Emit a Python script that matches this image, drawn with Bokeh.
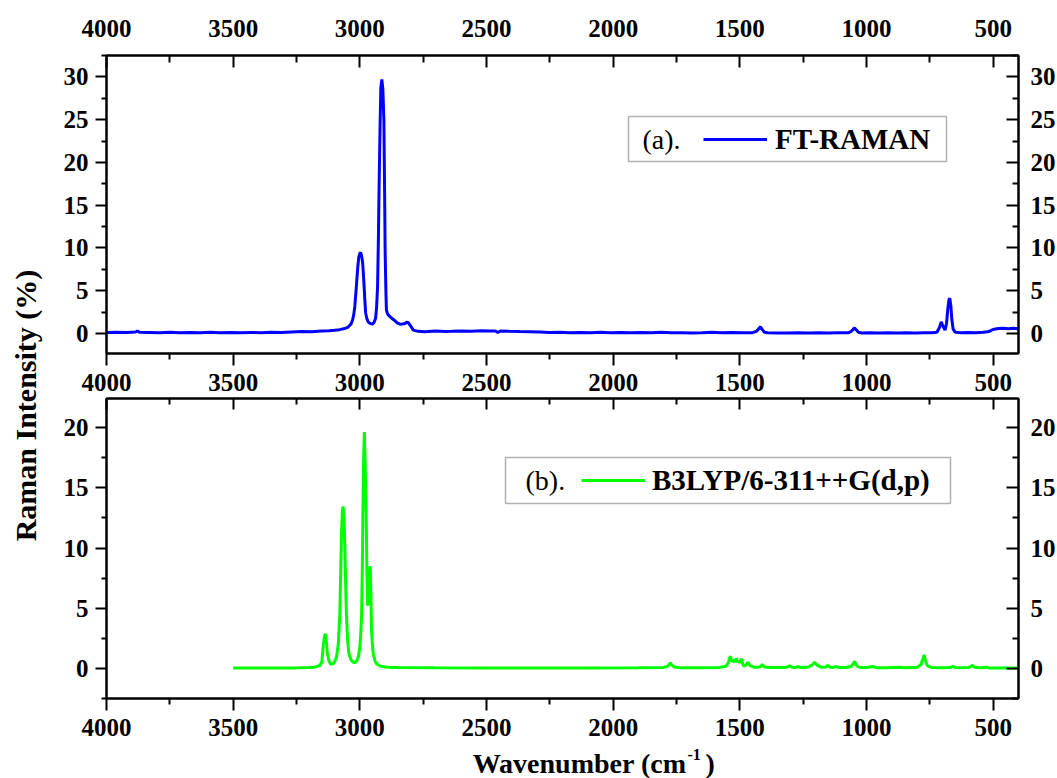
import math
from bokeh.plotting import figure
from bokeh.models import (Range1d, LinearAxis, FixedTicker, Legend, LegendItem,
                          Label, BoxAnnotation)
from bokeh.layouts import row, column
from bokeh.embed import file_html
from bokeh.resources import INLINE

# ---------------- data ----------------
ft_wavenumber = [4000, 3960, 3920, 3885, 3878, 3870, 3830, 3790, 3750, 3710, 3670, 3630, 3590,
                 3550, 3510, 3470, 3430, 3390, 3350, 3310, 3270, 3230, 3190, 3150, 3120, 3100,
                 3080, 3060, 3046, 3035, 3029, 3024, 3020, 3016, 3012, 3008, 3004, 3000, 2997,
                 2993, 2989, 2986, 2983, 2980, 2977, 2972, 2967, 2958, 2950, 2944, 2938, 2934,
                 2930, 2927, 2924, 2920, 2917, 2913, 2909, 2905, 2902, 2900, 2897, 2895, 2890,
                 2882, 2873, 2864, 2853, 2842, 2832, 2822, 2815, 2809, 2800, 2789, 2770, 2744,
                 2700, 2660, 2638, 2600, 2560, 2520, 2490, 2465, 2455, 2445, 2410, 2370, 2330,
                 2290, 2250, 2210, 2170, 2130, 2090, 2050, 2010, 1970, 1930, 1890, 1850, 1810,
                 1770, 1730, 1690, 1650, 1610, 1570, 1530, 1490, 1450, 1435, 1428, 1419, 1411,
                 1403, 1390, 1350, 1310, 1270, 1230, 1190, 1150, 1110, 1070, 1060, 1053, 1047,
                 1040, 1032, 1020, 985, 950, 915, 880, 845, 810, 770, 740, 722, 712, 705, 699,
                 690, 684, 679, 674, 671, 667, 663, 658, 650, 630, 600, 570, 540, 521, 508, 496,
                 480, 460, 440, 420, 400]
ft_intensity = [0.12, 0.15, 0.12, 0.16, 0.30, 0.14, 0.12, 0.10, 0.13, 0.09, 0.12, 0.10, 0.13,
                0.09, 0.11, 0.08, 0.12, 0.10, 0.14, 0.12, 0.18, 0.22, 0.20, 0.28, 0.32, 0.38,
                0.45, 0.58, 0.75, 1.10, 1.55, 2.20, 3.10, 4.60, 6.20, 7.80, 8.96, 9.35, 9.47,
                9.10, 8.30, 7.00, 5.45, 3.80, 2.40, 1.70, 1.35, 1.15, 1.09, 1.30, 1.75, 3.00,
                5.45, 10.5, 17.1, 24.5, 28.8, 29.7, 28.5, 24.9, 16.0, 9.35, 4.80, 2.72, 2.25,
                2.00, 1.75, 1.55, 1.25, 1.09, 1.10, 1.17, 1.30, 1.29, 0.90, 0.39, 0.25, 0.19,
                0.28, 0.24, 0.25, 0.30, 0.26, 0.33, 0.28, 0.30, 0.12, 0.30, 0.26, 0.22, 0.20,
                0.18, 0.12, 0.15, 0.10, 0.12, 0.10, 0.13, 0.10, 0.12, 0.08, 0.12, 0.10, 0.13,
                0.08, 0.10, 0.06, 0.09, 0.13, 0.10, 0.12, 0.08, 0.10, 0.25, 0.45, 0.78, 0.45,
                0.15, 0.08, 0.07, 0.06, 0.09, 0.06, 0.08, 0.07, 0.09, 0.10, 0.25, 0.48, 0.66,
                0.40, 0.15, 0.06, 0.08, 0.05, 0.10, 0.07, 0.10, 0.06, 0.09, 0.08, 0.15, 0.70,
                1.36, 0.90, 0.40, 1.20, 2.90, 4.00, 4.09, 3.20, 1.60, 0.50, 0.15, 0.10, 0.12,
                0.10, 0.15, 0.20, 0.35, 0.50, 0.58, 0.60, 0.56, 0.60, 0.55]

dft_wavenumber = [3500, 3400, 3300, 3250, 3200, 3175, 3158, 3150, 3145, 3140, 3136, 3132, 3128,
                  3121, 3114, 3105, 3098, 3092, 3085, 3079, 3075, 3072, 3069, 3066, 3063, 3059,
                  3056, 3053, 3048, 3043, 3035, 3027, 3020, 3012, 3005, 3000, 2996, 2993, 2990,
                  2988, 2985, 2982, 2979, 2975, 2972, 2969, 2965, 2962, 2959, 2956, 2954, 2950,
                  2947, 2940, 2934, 2920, 2900, 2888, 2850, 2700, 2500, 2300, 2100, 1900, 1800,
                  1785, 1779, 1774, 1769, 1760, 1740, 1650, 1580, 1555, 1545, 1538, 1531, 1523,
                  1518, 1514, 1509, 1505, 1499, 1494, 1489, 1484, 1476, 1468, 1460, 1445, 1420,
                  1411, 1403, 1380, 1330, 1315, 1303, 1292, 1280, 1270, 1260, 1230, 1215, 1205,
                  1195, 1180, 1160, 1152, 1145, 1130, 1119, 1108, 1080, 1060, 1052, 1047, 1041,
                  1030, 1000, 975, 960, 920, 869, 850, 800, 785, 778, 773, 767, 760, 745, 700,
                  670, 659, 650, 600, 588, 582, 575, 550, 527, 515, 480, 440, 400]
dft_intensity = [0.0, 0.0, 0.01, 0.02, 0.05, 0.10, 0.22, 0.50, 1.75, 2.60, 2.86, 2.20, 1.20,
                 0.55, 0.31, 0.37, 0.60, 0.92, 2.00, 4.50, 8.50, 11.5, 13.0, 13.46, 12.5, 10.1,
                 7.00, 4.50, 2.20, 1.20, 0.70, 0.50, 0.45, 0.60, 1.00, 1.75, 3.00, 4.50, 8.50,
                 12.9, 17.5, 19.65, 17.0, 12.9, 8.00, 5.20, 6.00, 7.80, 8.49, 6.00, 3.14, 1.90,
                 1.20, 0.60, 0.37, 0.18, 0.10, 0.08, 0.05, 0.03, 0.02, 0.02, 0.02, 0.03, 0.06,
                 0.15, 0.30, 0.45, 0.28, 0.10, 0.04, 0.03, 0.06, 0.15, 0.45, 1.00, 0.55, 0.64,
                 0.50, 0.83, 0.50, 0.60, 0.45, 0.78, 0.40, 0.15, 0.25, 0.50, 0.20, 0.08, 0.10,
                 0.30, 0.10, 0.05, 0.05, 0.08, 0.18, 0.07, 0.06, 0.13, 0.05, 0.10, 0.25, 0.50,
                 0.25, 0.08, 0.10, 0.25, 0.08, 0.06, 0.13, 0.05, 0.05, 0.15, 0.40, 0.56, 0.25,
                 0.08, 0.05, 0.13, 0.04, 0.03, 0.08, 0.03, 0.08, 0.30, 0.75, 1.10, 0.60, 0.20,
                 0.06, 0.03, 0.05, 0.15, 0.04, 0.05, 0.12, 0.25, 0.08, 0.03, 0.08, 0.02, 0.01,
                 0.0, 0.0]

x_major_ticks = [4000, 3500, 3000, 2500, 2000, 1500, 1000, 500]
x_minor_ticks = [3750, 3250, 2750, 2250, 1750, 1250, 750]
top_y_major = [0, 5, 10, 15, 20, 25, 30]
top_y_minor = [2.5, 7.5, 12.5, 17.5, 22.5, 27.5, 32.5]
bot_y_major = [0, 5, 10, 15, 20]
bot_y_minor = [-2.5, 2.5, 7.5, 12.5, 17.5, 22.5]

FONT = "Liberation Serif"
TICK_SIZE = "25px"


def make_axis(ticks, minor, tick_in, tick_out, minor_in, minor_out, standoff, labels=True):
    ax = LinearAxis(ticker=FixedTicker(ticks=ticks, minor_ticks=minor))
    ax.axis_line_width = 2
    ax.axis_line_color = "black"
    ax.major_tick_line_width = 2
    ax.minor_tick_line_width = 2
    ax.major_tick_line_color = "black"
    ax.minor_tick_line_color = "black"
    ax.major_tick_in = tick_in
    ax.major_tick_out = tick_out
    ax.minor_tick_in = minor_in
    ax.minor_tick_out = minor_out
    ax.major_label_standoff = standoff
    ax.major_label_text_font = FONT
    ax.major_label_text_font_style = "bold"
    if labels:
        ax.major_label_text_color = "black"
        ax.major_label_text_font_size = TICK_SIZE
    else:
        ax.major_label_text_color = None
        ax.major_label_text_font_size = "0px"
    return ax


def make_panel(y_lo, y_hi, frame_h, border_top, border_bottom, ymaj, ymin, top_labels,
               bottom_standoff):
    p = figure(frame_width=912, frame_height=frame_h, title=None,
               x_range=Range1d(4000, 400), y_range=Range1d(y_lo, y_hi),
               x_axis_location=None, y_axis_location=None,
               min_border_left=45, min_border_right=40,
               min_border_top=border_top, min_border_bottom=border_bottom,
               toolbar_location=None, output_backend="svg")
    p.grid.visible = False
    p.outline_line_color = "black"
    p.outline_line_width = 2
    p.background_fill_color = "white"
    p.border_fill_color = "white"
    p.add_layout(make_axis(ymaj, ymin, 0, 11, 0, 5, 7), "left")
    p.add_layout(make_axis(ymaj, ymin, 12, 0, 6, 0, 12), "right")
    if top_labels:
        p.add_layout(make_axis(x_major_ticks, x_minor_ticks, 12, 0, 7, 0, 19), "above")
    else:
        p.add_layout(make_axis(x_major_ticks, x_minor_ticks, 11, 0, 6, 0, 0, labels=False), "above")
    p.add_layout(make_axis(x_major_ticks, x_minor_ticks, 0, 12, 0, 6, bottom_standoff), "below")
    return p


# ---------------- top panel: FT-RAMAN ----------------
p1 = make_panel(-2.34, 32.5, 298, 55, 44, top_y_major, top_y_minor, True, 8)
r1 = p1.line(ft_wavenumber, ft_intensity, line_color="#0000FF", line_width=3)
p1.add_layout(BoxAnnotation(left=522, right=840, bottom=192, top=237,
                            left_units="screen", right_units="screen",
                            bottom_units="screen", top_units="screen",
                            fill_alpha=0, line_color="black", line_width=1.5))
p1.add_layout(Label(x=536, y=214, x_units="screen", y_units="screen", text="(a).",
                    text_font=FONT, text_font_size="28px", text_baseline="middle",
                    text_color="black"))
leg1 = Legend(items=[LegendItem(label="FT-RAMAN", renderers=[r1])], location=(597, 197),
              padding=0, margin=0, spacing=0, glyph_width=64, glyph_height=34,
              label_height=34, label_standoff=8, border_line_color=None,
              background_fill_alpha=0, label_text_font=FONT,
              label_text_font_style="bold", label_text_font_size="29px",
              label_text_color="black")
p1.add_layout(leg1)

# ---------------- bottom panel: B3LYP ----------------
p2 = make_panel(-2.53, 22.45, 300, 1, 48, bot_y_major, bot_y_minor, False, 8)
r2 = p2.line(dft_wavenumber, dft_intensity, line_color="#00FF00", line_width=3)
p2.add_layout(BoxAnnotation(left=399, right=844, bottom=195, top=241,
                            left_units="screen", right_units="screen",
                            bottom_units="screen", top_units="screen",
                            fill_alpha=0, line_color="black", line_width=1.5))
p2.add_layout(Label(x=419, y=218, x_units="screen", y_units="screen", text="(b).",
                    text_font=FONT, text_font_size="28px", text_baseline="middle",
                    text_color="black"))
leg2 = Legend(items=[LegendItem(label="B3LYP/6-311++G(d,p)", renderers=[r2])],
              location=(475, 201), padding=0, margin=0, spacing=0, glyph_width=64,
              glyph_height=34, label_height=34, label_standoff=7, border_line_color=None,
              background_fill_alpha=0, label_text_font=FONT,
              label_text_font_style="bold", label_text_font_size="29px",
              label_text_color="black")
p2.add_layout(leg2)

# ---------------- bottom strip with the x-axis title ----------------
pb = figure(width=997, height=32, title=None, x_axis_location=None, y_axis_location=None,
            min_border=0, toolbar_location=None, output_backend="svg",
            x_range=Range1d(0, 1), y_range=Range1d(0, 1))
pb.grid.visible = False
pb.outline_line_color = None
pb.add_layout(Label(x=580, y=15, x_units="screen", y_units="screen",
                    text="Wavenumber (cm", text_font=FONT, text_font_style="bold",
                    text_font_size="28px", text_align="right", text_baseline="alphabetic",
                    text_color="black"))
pb.add_layout(Label(x=581, y=24, x_units="screen", y_units="screen", text="-1",
                    text_font=FONT, text_font_style="bold", text_font_size="16px",
                    text_align="left", text_baseline="alphabetic", text_color="black"))
pb.add_layout(Label(x=599, y=15, x_units="screen", y_units="screen", text=")",
                    text_font=FONT, text_font_style="bold", text_font_size="28px",
                    text_align="left", text_baseline="alphabetic", text_color="black"))

# ---------------- left strip with the shared y-axis title ----------------
pl = figure(width=60, height=778, title=None, x_axis_location=None, y_axis_location=None,
            min_border=0, toolbar_location=None, output_backend="svg",
            x_range=Range1d(0, 1), y_range=Range1d(0, 1))
pl.grid.visible = False
pl.outline_line_color = None
pl.add_layout(Label(x=25, y=373, x_units="screen", y_units="screen",
                    text="Raman Intensity (%)", angle=math.pi / 2, text_font=FONT,
                    text_font_style="bold", text_font_size="30px", text_align="center",
                    text_baseline="middle", text_color="black"))

layout = row(pl, column(p1, p2, pb))
open("out.html", "w").write(file_html(layout, INLINE))
